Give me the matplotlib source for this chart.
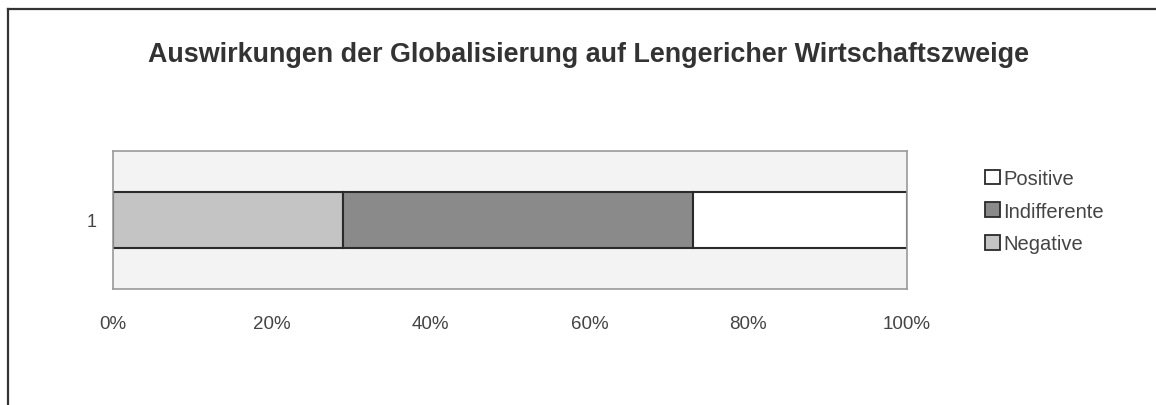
import matplotlib
matplotlib.use('Agg')
import matplotlib.pyplot as plt
from matplotlib import font_manager
from matplotlib.lines import Line2D
from matplotlib.patches import Patch

# Anteile der Antworten (gestapelter 100%-Balken)
kategorien = ['1']
serien = ['Negative', 'Indifferente', 'Positive']
werte = [29, 44, 27]
farben = ['#c4c4c4', '#8a8a8a', '#ffffff']
ticks = [0, 20, 40, 60, 80, 100]
tick_labels = ['0%', '20%', '40%', '60%', '80%', '100%']


def schrift(bold=False):
    # normale (nicht schmale) Liberation Sans suchen
    for f in font_manager.fontManager.ttflist:
        if f.name == 'Liberation Sans' and 'Narrow' not in f.fname:
            if (f.weight == 'bold' or f.weight == 700) == bold and f.style == 'normal':
                return font_manager.FontProperties(fname=f.fname)
    return font_manager.FontProperties(family='DejaVu Sans',
                                       weight='bold' if bold else 'normal')


fp = schrift()
fp_bold = schrift(bold=True)

fig = plt.figure(figsize=(11.56, 4.06), dpi=100)
ax = fig.add_axes([113 / 1156, 1 - 290 / 406, 794 / 1156, 138 / 406])

links = 0
for name, w, c in zip(serien, werte, farben):
    ax.barh(kategorien, [w], left=links, height=0.4, color=c,
            edgecolor='#2a2a2a', linewidth=1.5, label=name)
    links += w

ax.set_xlim(0, 100)
ax.set_ylim(-0.5, 0.5)
ax.set_facecolor('#f3f3f3')
for s in ax.spines.values():
    s.set_color('#9a9a9a')
    s.set_linewidth(1.2)
ax.set_xticks(ticks)
ax.set_xticklabels(tick_labels, fontproperties=fp, fontsize=13.5, color='#444444')
ax.set_yticks([0])
ax.set_yticklabels(kategorien, fontproperties=fp, fontsize=13, color='#444444')
ax.tick_params(axis='x', length=0, pad=19)
ax.tick_params(axis='y', length=0, pad=12)

titel = fig.text(589 / 1156, 1 - 55 / 406,
                 'Auswirkungen der Globalisierung auf Lengericher Wirtschaftszweige',
                 ha='center', va='center', fontproperties=fp_bold, color='#333333')
titel.set_fontsize(19.4)

# Legende in umgekehrter Reihenfolge
handles = [Patch(facecolor=c, edgecolor='#2a2a2a', linewidth=1.3, label=n)
           for n, c in zip(serien, farben)][::-1]
leg_fp = fp.copy()
leg_fp.set_size(14.5)
fig.legend(handles=handles, loc='upper left', bbox_to_anchor=(985 / 1156, 1 - 170 / 406),
           frameon=False, prop=leg_fp, handlelength=0.72, handleheight=0.72,
           handletextpad=0.2, labelspacing=0.68, labelcolor='#444444',
           borderaxespad=0, borderpad=0)

# Rahmen links und oben
fig.add_artist(Line2D([8 / 1156, 8 / 1156], [0, 1 - 10 / 406], color='#333333', linewidth=1.6))
fig.add_artist(Line2D([8 / 1156, 1], [1 - 10 / 406, 1 - 10 / 406], color='#333333', linewidth=1.6))

fig.savefig('out.png', dpi=100)
